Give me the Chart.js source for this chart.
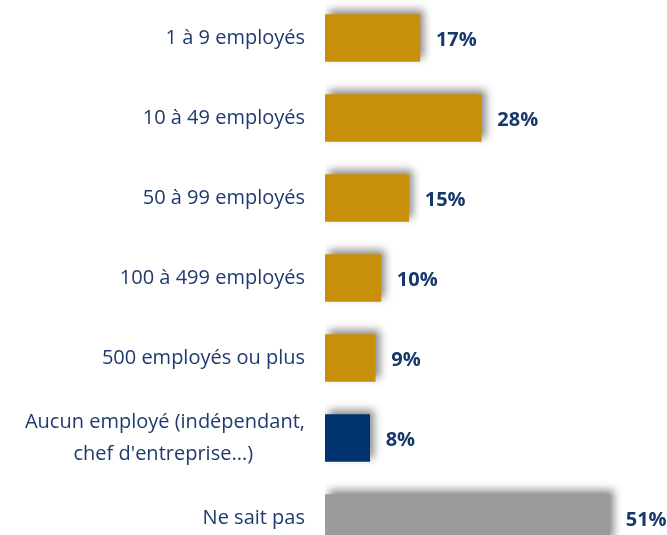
<!DOCTYPE html>
<html>
<head>
<meta charset="utf-8">
<script src="https://cdn.jsdelivr.net/npm/chart.js@4/dist/chart.umd.min.js"></script>
<style>
  html, body { margin: 0; padding: 0; background: #fff; overflow: hidden; }
  #chart { position: absolute; left: 0; top: -2px; }
</style>
</head>
<body>
<canvas id="chart" width="667" height="560"></canvas>
<script>
const categories = [
    "1 à 9 employés",
    "10 à 49 employés",
    "50 à 99 employés",
    "100 à 499 employés",
    "500 employés ou plus",
    ["Aucun employé (indépendant,", "chef d'entreprise...)          "],
    "Ne sait pas"
];
const values = [17, 28, 15, 10, 9, 8, 51];
const barColors = ["#C8900A", "#C8900A", "#C8900A", "#C8900A", "#C8900A", "#00336E", "#9B9B9B"];

const navy = "#1F3A6E";

// shadow behind the bars
const shadowPlugin = {
    id: 'barShadow',
    beforeDatasetDraw(chart) {
        const c = chart.ctx;
        c.save();
        c.shadowColor = 'rgba(0,0,0,0.45)';
        c.shadowBlur = 8;
        c.shadowOffsetX = 4;
        c.shadowOffsetY = -4;
    },
    afterDatasetDraw(chart) {
        chart.ctx.restore();
    }
};

// value labels at end of each bar
const valueLabels = {
    id: 'valueLabels',
    afterDatasetsDraw(chart) {
        const c = chart.ctx;
        const meta = chart.getDatasetMeta(0);
        c.save();
        c.font = "bold 20px 'Open Sans'";
        c.fillStyle = "#17386B";
        c.textAlign = 'left';
        c.textBaseline = 'middle';
        meta.data.forEach((bar, i) => {
            c.fillText(values[i] + '%', bar.x + 16, bar.y + 2);
        });
        c.restore();
    }
};

const ctx = document.getElementById('chart').getContext('2d');
const chart = new Chart(ctx, {
    type: 'bar',
    data: {
        labels: categories,
        datasets: [{
            data: values,
            backgroundColor: barColors,
            barThickness: 47,
            borderWidth: 0
        }]
    },
    options: {
        indexAxis: 'y',
        responsive: false,
        animation: false,
        devicePixelRatio: 1,
        layout: { padding: { left: 0, right: 7, top: 0, bottom: 0 } },
        plugins: {
            legend: { display: false },
            tooltip: { enabled: false }
        },
        scales: {
            x: {
                display: false,
                min: 0,
                max: 60
            },
            y: {
                grid: { display: false, drawTicks: false },
                border: { display: false },
                ticks: {
                    color: navy,
                    padding: 20,
                    font: { family: "'Open Sans'", size: 20, lineHeight: 1.6 }
                },
                afterFit(scale) {
                    scale.width = 325;
                    scale.paddingTop = 0;
                    scale.paddingBottom = 0;
                }
            }
        }
    },
    plugins: [shadowPlugin, valueLabels]
});
</script>
</body>
</html>
